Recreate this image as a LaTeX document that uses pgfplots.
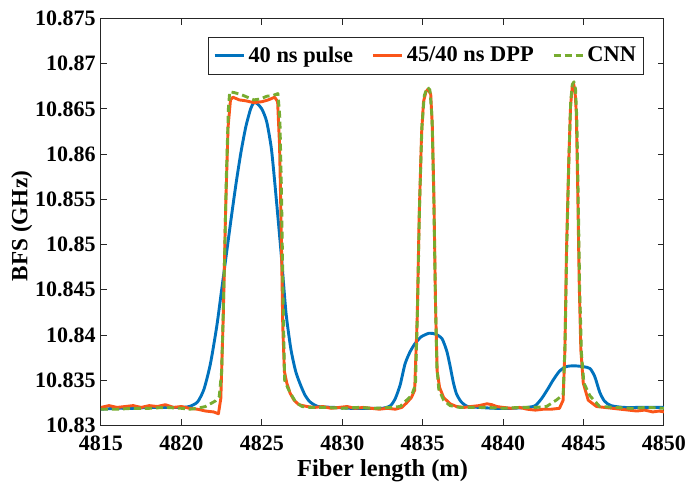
\documentclass[border=0pt]{standalone}
\usepackage{fontspec}
\setmainfont{Liberation Serif}
\usepackage{pgfplots}
\pgfplotsset{compat=1.18}
\usepackage{pgfplotstable}
\definecolor{mblue}{RGB}{0,114,189}
\definecolor{morange}{RGB}{250,85,25}
\definecolor{mgreen}{RGB}{119,172,48}
\definecolor{axgray}{RGB}{38,38,38}
\pgfplotstableread{
x y
4815.0 10.8318
4816.0 10.8319
4817.0 10.8319
4818.0 10.8320
4819.0 10.8320
4820.0 10.8320
4820.5 10.8321
4821.0 10.8326
4821.4 10.8340
4821.8 10.8368
4822.2 10.8410
4822.5 10.8450
4822.8 10.8490
4823.1 10.8530
4823.4 10.8568
4823.7 10.8602
4824.0 10.8630
4824.3 10.8650
4824.5 10.8657
4824.7 10.8656
4825.0 10.8650
4825.3 10.8636
4825.6 10.8605
4825.9 10.8550
4826.2 10.8490
4826.5 10.8425
4826.8 10.8385
4827.1 10.8360
4827.4 10.8345
4827.7 10.8333
4828.0 10.8326
4828.5 10.8321
4829.5 10.8320
4830.5 10.8319
4831.5 10.8319
4832.5 10.8319
4833.0 10.8322
4833.3 10.8330
4833.6 10.8345
4833.9 10.8368
4834.2 10.8381
4834.5 10.8390
4834.9 10.8398
4835.4 10.8402
4835.8 10.8401
4836.2 10.8396
4836.5 10.8382
4836.7 10.8366
4836.9 10.8348
4837.1 10.8335
4837.4 10.8326
4837.8 10.8321
4838.5 10.8320
4839.5 10.8319
4840.5 10.8319
4841.5 10.8320
4842.0 10.8322
4842.4 10.8330
4842.8 10.8341
4843.1 10.8350
4843.5 10.8360
4843.9 10.8365
4844.4 10.8366
4845.0 10.8365
4845.4 10.8363
4845.7 10.8354
4846.0 10.8337
4846.3 10.8327
4846.7 10.8322
4847.5 10.8320
4848.5 10.8320
4849.5 10.8320
4850.0 10.8320
}\bluedata
\pgfplotstableread{
x y
4815.0 10.8320
4815.5 10.8322
4816.0 10.8320
4816.5 10.8321
4817.0 10.8322
4817.5 10.8320
4818.0 10.8322
4818.5 10.8321
4819.0 10.8323
4819.5 10.8320
4820.0 10.8321
4820.5 10.8319
4821.0 10.8318
4821.5 10.8316
4822.0 10.8315
4822.3 10.8313
4822.45 10.8330
4822.6 10.8420
4822.75 10.8540
4822.9 10.8630
4823.05 10.8660
4823.2 10.8663
4823.6 10.8660
4824.0 10.8659
4824.5 10.8657
4825.0 10.8658
4825.4 10.8660
4825.8 10.8663
4825.98 10.8658
4826.1 10.8610
4826.2 10.8520
4826.3 10.8410
4826.4 10.8360
4826.55 10.8347
4826.75 10.8336
4827.0 10.8328
4827.3 10.8323
4827.8 10.8321
4828.3 10.8320
4828.8 10.8321
4829.3 10.8319
4829.8 10.8320
4830.3 10.8321
4830.8 10.8319
4831.3 10.8320
4831.8 10.8319
4832.3 10.8318
4832.8 10.8319
4833.3 10.8318
4833.7 10.8320
4834.0 10.8325
4834.3 10.8331
4834.5 10.8339
4834.66 10.8420
4834.78 10.8531
4834.93 10.8623
4835.05 10.8658
4835.2 10.8669
4835.34 10.8672
4835.5 10.8666
4835.6 10.8630
4835.7 10.8550
4835.8 10.8430
4835.9 10.8360
4836.05 10.8342
4836.3 10.8331
4836.7 10.8324
4837.1 10.8321
4837.6 10.8320
4838.0 10.8321
4838.5 10.8322
4839.0 10.8324
4839.3 10.8323
4839.6 10.8321
4840.0 10.8320
4840.5 10.8319
4841.0 10.8320
4841.5 10.8318
4842.0 10.8317
4842.5 10.8318
4843.0 10.8318
4843.5 10.8319
4843.73 10.8328
4843.84 10.8384
4843.94 10.8494
4844.07 10.8586
4844.19 10.8653
4844.3 10.8675
4844.38 10.8678
4844.47 10.8670
4844.55 10.8645
4844.63 10.8568
4844.73 10.8457
4844.83 10.8384
4844.98 10.8347
4845.29 10.8328
4845.8 10.8321
4846.3 10.8320
4846.8 10.8319
4847.3 10.8318
4847.8 10.8317
4848.3 10.8316
4848.8 10.8317
4849.3 10.8315
4849.7 10.8316
4850.0 10.8315
}\orangedata
\pgfplotstableread{
x y
4815.0 10.8318
4816.0 10.8318
4817.0 10.8319
4818.0 10.8319
4819.0 10.8320
4820.0 10.8319
4820.5 10.8318
4821.0 10.8319
4821.5 10.8321
4821.8 10.8324
4822.1 10.8327
4822.35 10.8332
4822.5 10.8360
4822.65 10.8460
4822.8 10.8580
4822.92 10.8650
4823.0 10.8669
4823.3 10.8668
4823.7 10.8666
4824.1 10.8663
4824.5 10.8660
4824.9 10.8661
4825.3 10.8664
4825.7 10.8665
4826.0 10.8667
4826.12 10.8640
4826.22 10.8560
4826.32 10.8440
4826.42 10.8350
4826.6 10.8342
4826.8 10.8335
4827.1 10.8326
4827.5 10.8321
4828.0 10.8320
4829.0 10.8320
4830.0 10.8319
4831.0 10.8320
4832.0 10.8319
4833.0 10.8320
4833.6 10.8321
4834.0 10.8328
4834.3 10.8333
4834.55 10.8345
4834.68 10.8430
4834.8 10.8540
4834.95 10.8630
4835.1 10.8665
4835.3 10.8674
4835.45 10.8671
4835.58 10.8640
4835.68 10.8560
4835.78 10.8450
4835.88 10.8365
4836.0 10.8340
4836.3 10.8328
4836.7 10.8322
4837.3 10.8320
4838.0 10.8320
4839.0 10.8320
4840.0 10.8319
4841.0 10.8320
4842.0 10.8320
4842.7 10.8321
4843.3 10.8328
4843.73 10.8334
4843.85 10.8390
4843.96 10.8500
4844.09 10.8595
4844.2 10.8658
4844.3 10.8677
4844.4 10.8680
4844.5 10.8672
4844.58 10.8640
4844.66 10.8560
4844.76 10.8450
4844.87 10.8380
4845.02 10.8347
4845.39 10.8333
4846.0 10.8321
4847.0 10.8320
4848.0 10.8319
4849.0 10.8320
4850.0 10.8319
}\greendata
\begin{document}
\begin{tikzpicture}
\begin{axis}[
  scale only axis,
  width=281.5pt, height=203.5pt,
  xmin=4815, xmax=4850, ymin=10.83, ymax=10.875,
  xtick={4815,4820,4825,4830,4835,4840,4845,4850},
  xticklabels={4815,4820,4825,4830,4835,4840,4845,4850},
  ytick={10.83,10.835,10.84,10.845,10.85,10.855,10.86,10.865,10.87,10.875},
  yticklabels={10.83,10.835,10.84,10.845,10.85,10.855,10.86,10.865,10.87,10.875},
  tick align=inside,
  major tick length=3pt,
  axis line style={axgray, line width=0.5pt},
  tick style={axgray, line width=0.5pt},
  ticklabel style={font=\fontsize{11}{13}\selectfont\bfseries, text=black},
  xticklabel style={anchor=base, yshift=-12.4pt, inner sep=0pt},
  yticklabel style={anchor=east, xshift=-2.5pt, inner sep=0pt},
  xlabel={Fiber length (m)},
  ylabel={BFS (GHz)},
  xlabel style={font=\fontsize{12.2}{14}\selectfont\bfseries, at={(axis description cs:0.5,-0.1258)}, anchor=base},
  ylabel style={font=\fontsize{11.6}{14}\selectfont\bfseries, at={(axis description cs:-0.1407,0.49)}, anchor=center},
  legend columns=3,
  legend image code/.code={\draw[#1] (0pt,0pt) -- (14.5pt,0pt);},
  legend style={at={(axis description cs:0.965,0.955)}, anchor=north east,
    draw=axgray, line width=0.5pt, font=\fontsize{11.2}{13}\selectfont\bfseries,
    inner xsep=2.2pt, inner ysep=2pt,
    nodes={inner xsep=1.7pt, inner ysep=2.6pt},
    cells={anchor=west},
    /tikz/every even column/.append style={column sep=7.5pt}},
]
\addplot[mblue, line width=1.45pt, smooth, tension=0.4] table[x=x,y=y] {\bluedata};
\addlegendentry{40 ns pulse}
\addplot[morange, line width=1.45pt, line join=round] table[x=x,y=y] {\orangedata};
\addlegendentry{45/40 ns DPP}
\addplot[mgreen, line width=1.45pt, line join=round, dash pattern=on 3.5pt off 2pt] table[x=x,y=y] {\greendata};
\addlegendentry{CNN}
\end{axis}
\pgfresetboundingbox
\path[use as bounding box] (-50.5pt,-31.25pt) rectangle (296pt,212.75pt);
\end{tikzpicture}
\end{document}
